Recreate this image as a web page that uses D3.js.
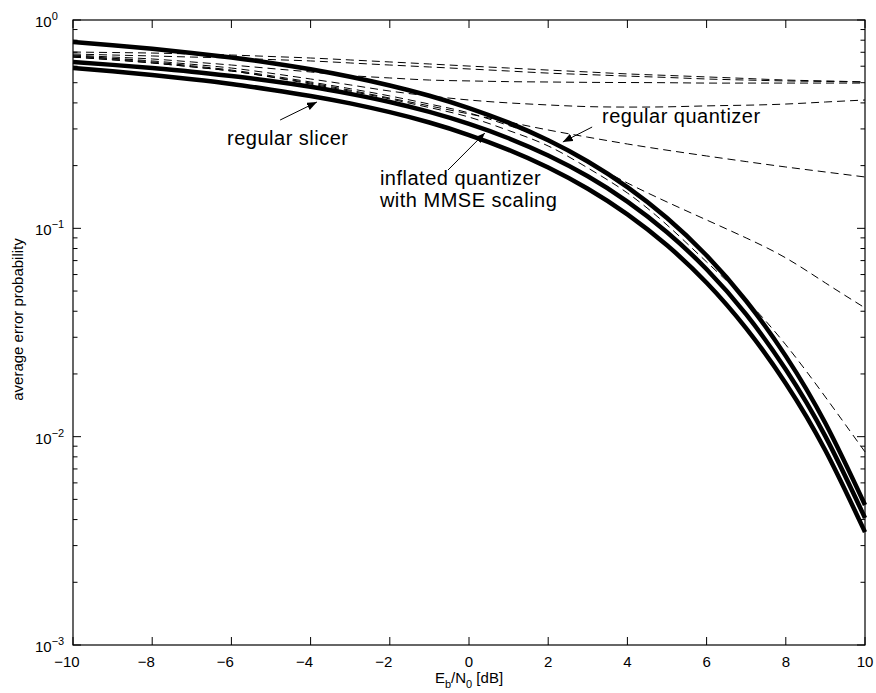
<!DOCTYPE html>
<html>
<head>
<meta charset="utf-8">
<script src="https://cdn.jsdelivr.net/npm/d3@7"></script>
<style>
  body { margin: 0; background: #fff; }
  svg text { font-family: "Liberation Sans", Arial, Helvetica, sans-serif; fill: #000; }
</style>
</head>
<body>
<div id="chart"></div>
<script>
// Eb/N0 grid (dB)
const snr = [-10, -9, -8, -7, -6, -5, -4, -3, -2, -1, 0, 1, 2, 3, 4, 5, 6, 7, 8, 9, 10];

// thick solid curves
const regularQuantizer = [0.784, 0.757, 0.727, 0.695, 0.660, 0.622, 0.580, 0.534, 0.485, 0.433, 0.378,
  0.3214, 0.2646, 0.2093, 0.1577, 0.1121, 0.0741, 0.0448, 0.02436, 0.01159, 0.0047];
const inflatedQuantizer = [0.629, 0.609, 0.588, 0.565, 0.538, 0.510, 0.478, 0.442, 0.404, 0.362, 0.317,
  0.2707, 0.2236, 0.1777, 0.1344, 0.0958, 0.0636, 0.0386, 0.0210, 0.01003, 0.00407];
const regularSlicer = [0.588, 0.567, 0.544, 0.519, 0.493, 0.463, 0.432, 0.398, 0.361, 0.322, 0.2805,
  0.2382, 0.1959, 0.1549, 0.1167, 0.0829, 0.0548, 0.0331, 0.0180, 0.00858, 0.00348];

// thin dashed curves
const dashA = [0.702, 0.698, 0.694, 0.687, 0.679, 0.668, 0.657, 0.643, 0.629, 0.615, 0.601,
  0.588, 0.575, 0.563, 0.551, 0.542, 0.533, 0.524, 0.515, 0.510, 0.504];
const dashB = [0.687, 0.679, 0.672, 0.664, 0.657, 0.646, 0.636, 0.622, 0.608, 0.595, 0.582,
  0.569, 0.556, 0.547, 0.538, 0.530, 0.521, 0.515, 0.510, 0.507, 0.504];
const dashC = [0.679, 0.664, 0.650, 0.629, 0.608, 0.585, 0.563, 0.541, 0.527, 0.515, 0.510,
  0.506, 0.504, 0.502, 0.501, 0.500, 0.498, 0.498, 0.498, 0.498, 0.498];
const dashD = [0.672, 0.655, 0.636, 0.613, 0.588, 0.555, 0.521, 0.488, 0.456, 0.432, 0.413,
  0.400, 0.391, 0.384, 0.382, 0.383, 0.387, 0.390, 0.395, 0.404, 0.413];
const dashE = [0.664, 0.644, 0.622, 0.596, 0.569, 0.534, 0.498, 0.460, 0.422, 0.387, 0.354,
  0.324, 0.2965, 0.2739, 0.2540, 0.2372, 0.2225, 0.2091, 0.1970, 0.1864, 0.1764];
const dashF = [0.672, 0.651, 0.629, 0.603, 0.575, 0.540, 0.504, 0.468, 0.432, 0.395, 0.358,
  0.3117, 0.2655, 0.2093, 0.1651, 0.1338, 0.1097, 0.0899, 0.0721, 0.0547, 0.0415];
const dashG = [0.664, 0.644, 0.622, 0.596, 0.569, 0.532, 0.493, 0.455, 0.418, 0.380, 0.342,
  0.2949, 0.2485, 0.1949, 0.1478, 0.1038, 0.0690, 0.0453, 0.0276, 0.0155, 0.00845];

const xTicks = [-10, -8, -6, -4, -2, 0, 2, 4, 6, 8, 10];
const yMajor = [1e-3, 1e-2, 1e-1, 1];
const yExp = [-3, -2, -1, 0];

// annotation labels (data coordinates)
const labels = [
  { lines: ["regular slicer"], x: -6.11, y: 0.251 },
  { lines: ["inflated quantizer", "with MMSE scaling"], x: -2.25, y: 0.1615 },
  { lines: ["regular quantizer"], x: 3.36, y: 0.320 }
];
const arrows = [
  { from: [-4.77, 0.331], to: [-3.84, 0.404] },
  { from: [-0.53, 0.1905], to: [0.40, 0.2868] },
  { from: [3.11, 0.3064], to: [2.37, 0.2597] }
];

const W = 876, H = 693;
const margin = { top: 20, right: 11, bottom: 48, left: 73 };

const svg = d3.select("#chart").append("svg")
  .attr("width", W)
  .attr("height", H);

const x = d3.scaleLinear().domain([-10, 10]).range([margin.left, W - margin.right]);
const y = d3.scaleLog().domain([1e-3, 1]).range([H - margin.bottom, margin.top]);

const defs = svg.append("defs");
defs.append("marker")
  .attr("id", "head")
  .attr("viewBox", "0 0 10 8")
  .attr("refX", 10).attr("refY", 4)
  .attr("markerWidth", 10).attr("markerHeight", 8)
  .attr("markerUnits", "userSpaceOnUse")
  .attr("orient", "auto")
  .append("path")
  .attr("d", "M0,0 L10,4 L0,8 Z")
  .attr("fill", "#000");

const line = d3.line()
  .x((d, i) => x(snr[i]))
  .y(d => y(d))
  .curve(d3.curveNatural);

// dashed curves
[dashA, dashB, dashC, dashD, dashE, dashF, dashG].forEach(s => {
  svg.append("path")
    .attr("d", line(s))
    .attr("fill", "none")
    .attr("stroke", "#000")
    .attr("stroke-width", 1)
    .attr("stroke-dasharray", "8,5");
});

// thick curves
[regularQuantizer, inflatedQuantizer, regularSlicer].forEach(s => {
  svg.append("path")
    .attr("d", line(s))
    .attr("fill", "none")
    .attr("stroke", "#000")
    .attr("stroke-width", 4.5);
});

// box
const x0 = x(-10), x1 = x(10), yTop = y(1), yBot = y(1e-3);
svg.append("rect")
  .attr("x", x0).attr("y", yTop)
  .attr("width", x1 - x0).attr("height", yBot - yTop)
  .attr("fill", "none")
  .attr("stroke", "#000")
  .attr("stroke-width", 1.2);

// x ticks (inward, top and bottom)
const tk = svg.append("g").attr("stroke", "#000").attr("stroke-width", 1);
xTicks.forEach(t => {
  tk.append("line").attr("x1", x(t)).attr("x2", x(t)).attr("y1", yBot).attr("y2", yBot - 8);
  tk.append("line").attr("x1", x(t)).attr("x2", x(t)).attr("y1", yTop).attr("y2", yTop + 8);
});

// y ticks, major and minor, left and right
const yMinor = [];
yExp.slice(0, 3).forEach(e => {
  for (let m = 2; m <= 9; m++) yMinor.push(m * Math.pow(10, e));
});
yMajor.forEach(v => {
  tk.append("line").attr("x1", x0).attr("x2", x0 + 8).attr("y1", y(v)).attr("y2", y(v));
  tk.append("line").attr("x1", x1).attr("x2", x1 - 8).attr("y1", y(v)).attr("y2", y(v));
});
yMinor.forEach(v => {
  tk.append("line").attr("x1", x0).attr("x2", x0 + 4.5).attr("y1", y(v)).attr("y2", y(v));
  tk.append("line").attr("x1", x1).attr("x2", x1 - 4.5).attr("y1", y(v)).attr("y2", y(v));
});

// x tick labels
svg.selectAll(".xlab")
  .data(xTicks)
  .enter().append("text")
  .attr("class", "xlab")
  .attr("x", d => x(d) + (d < 0 ? -6 : 0))
  .attr("y", yBot + 22)
  .attr("text-anchor", "middle")
  .style("font-size", "15px")
  .text(d => d < 0 ? "\u2212" + Math.abs(d) : d);

// y tick labels 10^k
yMajor.forEach((v, i) => {
  const t = svg.append("text")
    .attr("x", 35)
    .attr("y", y(v) + 7)
    .style("font-size", "15px");
  t.append("tspan").text("10");
  t.append("tspan")
    .attr("dy", -7)
    .style("font-size", "11px")
    .text(yExp[i] < 0 ? "\u2212" + Math.abs(yExp[i]) : yExp[i]);
});

// axis titles
svg.append("text")
  .attr("transform", `translate(23, ${(yTop + yBot) / 2 - 13}) rotate(-90)`)
  .attr("text-anchor", "middle")
  .style("font-size", "15px")
  .text("average error probability");

const xt = svg.append("text")
  .attr("x", (x0 + x1) / 2)
  .attr("y", yBot + 38)
  .attr("text-anchor", "middle")
  .style("font-size", "15px");
xt.append("tspan").text("E");
xt.append("tspan").attr("dy", 5).style("font-size", "11px").text("b");
xt.append("tspan").attr("dy", -5).text("/N");
xt.append("tspan").attr("dy", 5).style("font-size", "11px").text("0");
xt.append("tspan").attr("dy", -5).text(" [dB]");

// annotations
labels.forEach(l => {
  l.lines.forEach((s, i) => {
    svg.append("text")
      .attr("x", x(l.x))
      .attr("y", y(l.y) + i * 22)
      .style("font-size", "20px")
      .style("letter-spacing", "0.5px")
      .text(s);
  });
});
arrows.forEach(a => {
  svg.append("line")
    .attr("x1", x(a.from[0])).attr("y1", y(a.from[1]))
    .attr("x2", x(a.to[0])).attr("y2", y(a.to[1]))
    .attr("stroke", "#000")
    .attr("stroke-width", 1)
    .attr("marker-end", "url(#head)");
});
</script>
</body>
</html>
